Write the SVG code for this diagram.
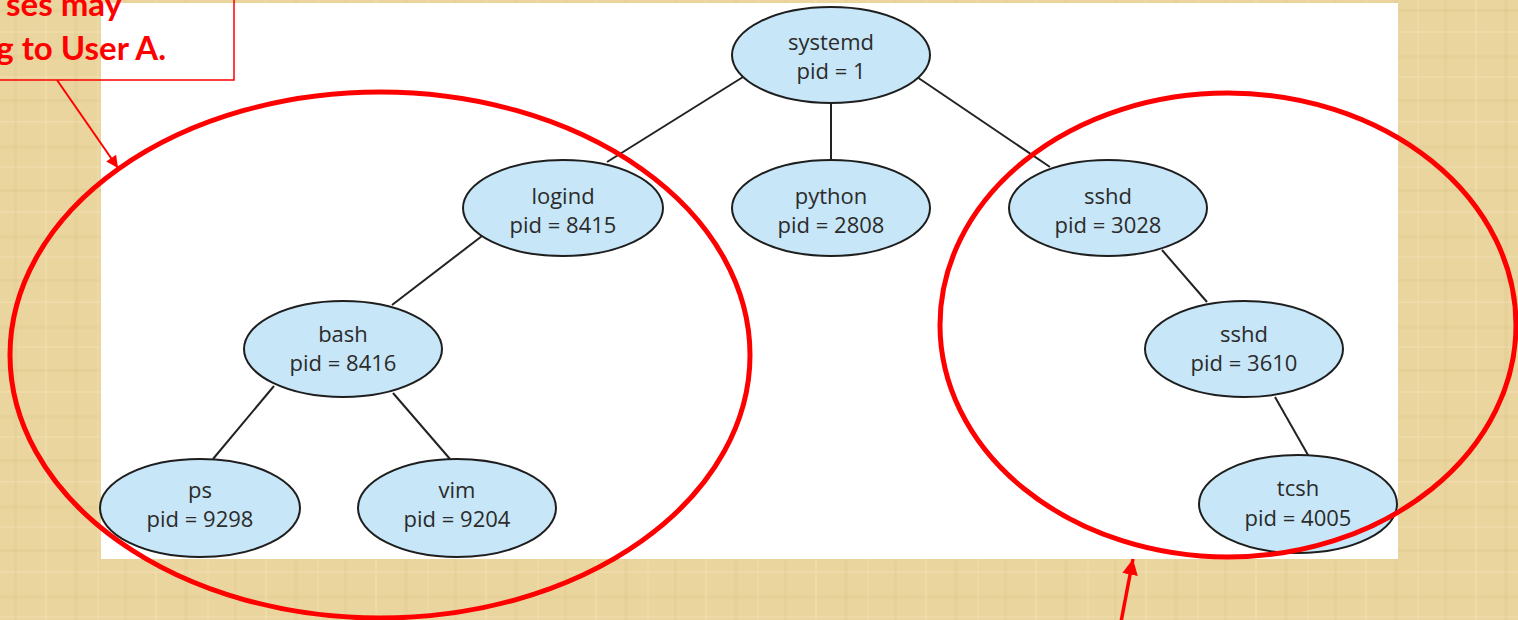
<svg xmlns="http://www.w3.org/2000/svg" width="1518" height="620" viewBox="0 0 1518 620">
<defs>
<style>
.node ellipse{fill:#c7e6f7;stroke:#1e1e1e;stroke-width:2}
.node text{font-family:"Open Sans","Noto Sans",sans-serif;font-size:22px;fill:#2b2b2b;text-anchor:middle}
.edge{stroke:#222;stroke-width:2;fill:none}
.ring{fill:none;stroke:#ff0000;stroke-width:5}
.note{font-family:Lato,"Liberation Sans",sans-serif;font-weight:bold;font-size:33px;fill:#ff0000;text-anchor:end}
</style>
<pattern id="papyrus" width="110" height="90" patternUnits="userSpaceOnUse">
<rect width="110" height="90" fill="#ead59e"/>
<rect x="0" y="9" width="110" height="3" fill="#dcc489" opacity="0.35"/>
<rect x="0" y="31" width="110" height="2" fill="#f3e2b4" opacity="0.5"/>
<rect x="0" y="55" width="110" height="4" fill="#dcc489" opacity="0.25"/>
<rect x="0" y="76" width="110" height="2" fill="#f2e0b0" opacity="0.45"/>
<rect x="14" y="0" width="3" height="90" fill="#dbc388" opacity="0.25"/>
<rect x="45" y="0" width="2" height="90" fill="#f3e2b3" opacity="0.45"/>
<rect x="74" y="0" width="4" height="90" fill="#d9c186" opacity="0.2"/>
<rect x="97" y="0" width="2" height="90" fill="#f2dfae" opacity="0.4"/>
</pattern>
<marker id="ah" viewBox="0 0 10 10" refX="10" refY="5" markerWidth="8" markerHeight="6" markerUnits="strokeWidth" orient="auto">
<path d="M0,0 L10,5 L0,10 z" fill="#ff0000"/>
</marker>
<marker id="ah2" viewBox="0 0 10 10" refX="10" refY="5" markerWidth="4.5" markerHeight="4.5" markerUnits="strokeWidth" orient="auto">
<path d="M0,0 L10,5 L0,10 z" fill="#ff0000"/>
</marker>
</defs>
<rect width="1518" height="620" fill="url(#papyrus)"/>
<rect x="101" y="3" width="1297" height="556" fill="#ffffff"/>
<g id="edges">
<line class="edge" x1="743" y1="77" x2="607" y2="162"/>
<line class="edge" x1="831" y1="102" x2="831" y2="160"/>
<line class="edge" x1="917" y1="77" x2="1050" y2="167"/>
<line class="edge" x1="482" y1="236" x2="392" y2="305"/>
<line class="edge" x1="274" y1="386" x2="213" y2="459"/>
<line class="edge" x1="393" y1="393" x2="450" y2="459"/>
<line class="edge" x1="1162" y1="250" x2="1207" y2="302"/>
<line class="edge" x1="1275" y1="397" x2="1308" y2="455"/>
</g>
<g id="systemd" class="node"><ellipse cx="831" cy="55" rx="99" ry="48"/><text x="831" y="50">systemd</text><text x="831" y="79">pid = 1</text></g>
<g id="logind" class="node"><ellipse cx="563" cy="208" rx="100" ry="48"/><text x="563" y="204">logind</text><text x="563" y="233">pid = 8415</text></g>
<g id="python" class="node"><ellipse cx="831" cy="208" rx="99" ry="48"/><text x="831" y="204">python</text><text x="831" y="233">pid = 2808</text></g>
<g id="sshd" class="node"><ellipse cx="1108" cy="208" rx="99" ry="48"/><text x="1108" y="204">sshd</text><text x="1108" y="233">pid = 3028</text></g>
<g id="bash" class="node"><ellipse cx="343" cy="349" rx="99" ry="48"/><text x="343" y="342">bash</text><text x="343" y="371">pid = 8416</text></g>
<g id="sshd2" class="node"><ellipse cx="1244" cy="349" rx="99" ry="48"/><text x="1244" y="342">sshd</text><text x="1244" y="371">pid = 3610</text></g>
<g id="ps" class="node"><ellipse cx="200" cy="508" rx="100" ry="49"/><text x="200" y="498">ps</text><text x="200" y="527">pid = 9298</text></g>
<g id="vim" class="node"><ellipse cx="457" cy="508" rx="99" ry="49"/><text x="457" y="498">vim</text><text x="457" y="527">pid = 9204</text></g>
<g id="tcsh" class="node"><ellipse cx="1298" cy="504" rx="99" ry="49"/><text x="1298" y="496">tcsh</text><text x="1298" y="526">pid = 4005</text></g>
<g id="groups">
<ellipse class="ring" cx="380" cy="355" rx="370" ry="263"/>
<ellipse class="ring" cx="1228" cy="325" rx="288" ry="232"/>
</g>
<g id="note">
<path d="M-10,80 H234 V-10" fill="none" stroke="#ff0000" stroke-width="1.5"/>
<text class="note" x="122" y="16">ses may</text>
<text class="note" x="166" y="60">g to User A.</text>
</g>
<g id="arrows">
<line x1="57" y1="80" x2="118" y2="168" stroke="#ff0000" stroke-width="2" marker-end="url(#ah)"/>
<line x1="1121" y1="622" x2="1133" y2="559" stroke="#ff0000" stroke-width="3.5" marker-end="url(#ah2)"/>
</g>
</svg>
